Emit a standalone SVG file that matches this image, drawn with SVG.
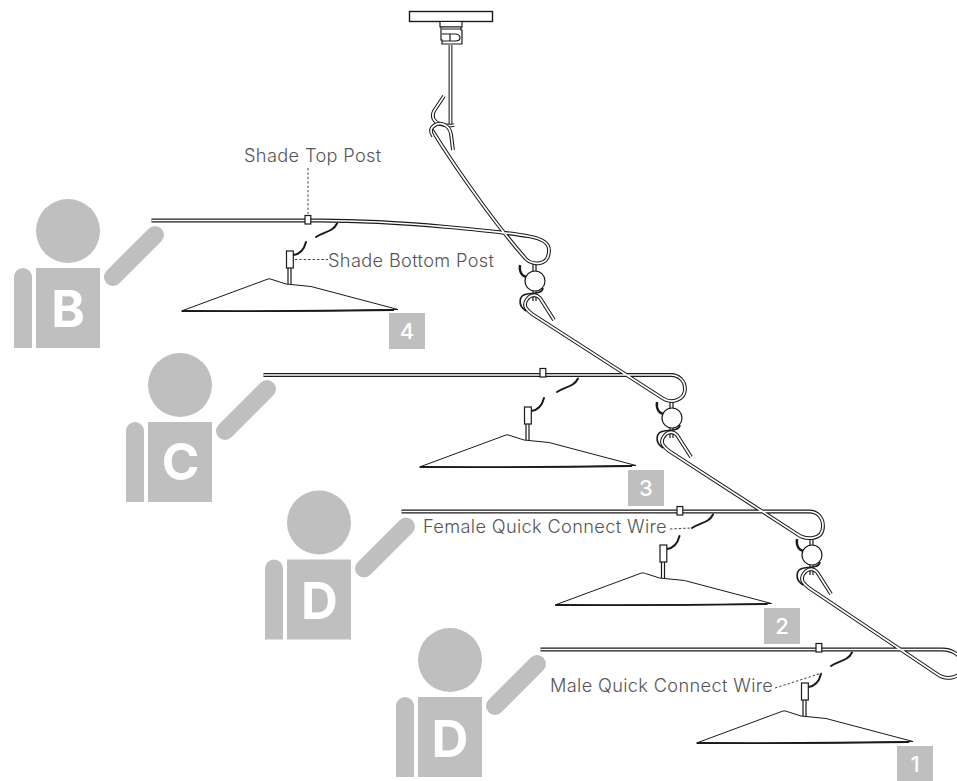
<svg xmlns="http://www.w3.org/2000/svg" xmlns:xlink="http://www.w3.org/1999/xlink" width="957" height="781" viewBox="0 0 957 781">
<style>
.lbl{font-family:Inter,"Liberation Sans",sans-serif;font-weight:300;font-size:18.2px;letter-spacing:.35px;fill:#555}
.let{font-family:Inter,"Liberation Sans",sans-serif;font-weight:700;font-size:51px;fill:#fff;text-anchor:middle}
.num{font-family:Inter,"Liberation Sans",sans-serif;font-weight:500;font-size:22px;fill:#fff;text-anchor:middle}
.sq{fill:#bfbfbf}
.o{fill:none;stroke:#1a1a1a;stroke-width:3.8;stroke-linejoin:round}
.i{fill:none;stroke:#fff;stroke-width:1.7;stroke-linejoin:round}
.th{fill:none;stroke:#1a1a1a;stroke-width:1.2;stroke-linejoin:round}
.w{fill:none;stroke:#1a1a1a;stroke-width:2;stroke-linecap:round}
.box{fill:#fff;stroke:#1a1a1a;stroke-width:1.2}
.dot{fill:none;stroke:#444;stroke-width:1;stroke-dasharray:2.4 2}
</style>
<defs>
<g id="person" fill="#bfbfbf">
<circle cx="68" cy="231" r="32"/>
<path d="M14 348V277a9 9 0 0 1 18 0V348Z"/>
<rect x="36" y="268" width="64" height="80"/>
<line x1="113" y1="277" x2="155" y2="235" stroke="#bfbfbf" stroke-width="18" stroke-linecap="round"/>
</g>
<rect id="tp" class="box" x="305" y="215.500" width="5.800" height="8.500"/>
<path id="wu" class="w" d="M337 223.500C333 232 323 232 316 237"/>
<g id="lamp">
<path class="w" d="M306 242C304 250 300 254 293.500 255" stroke-width="1.600"/>
<rect class="box" x="286.500" y="251" width="6.800" height="17"/>
<path class="th" d="M288 268V284M291 268V285"/>
<path fill="#fff" stroke="#1a1a1a" stroke-width="1" stroke-linejoin="round" d="M181.500 311L268 279Q270 278.500 272 279.500L286 284L311 286.500L398 309.500Q300 312 181.500 311Z"/>
<path fill="none" stroke="#1a1a1a" stroke-width="1.800" d="M182 311Q290 311.500 394 310"/>
</g>
<g id="hook">
<path fill="none" stroke="#1a1a1a" stroke-width="2.400" d="M-15 -16C-16 -9 -13 -4 -7 -4"/>
<path class="th" d="M-2 -9V-18M1 -9V-18M-2 9V20M1 9V20"/>
<circle cx="0" cy="0" r="10" fill="#fff" stroke="#1a1a1a" stroke-width="1.200"/>
<path fill="none" stroke="#1a1a1a" stroke-width="1.600" d="M8 7C7 13 -2 12 -8 13C-16 14 -18 24 -9 30"/>
</g>
</defs>

<g id="connectors">
<use href="#hook" xlink:href="#hook" x="535" y="281"/>
<use href="#hook" xlink:href="#hook" x="672" y="418"/>
<use href="#hook" xlink:href="#hook" x="812" y="555"/>
<path class="o" d="M432 130C460 175 500 230 526 259C532 265 549 267 549 250C549 243 543 239 530 236.500C505 232 400 220.500 320 220.500H151.500"/>
<path class="i" d="M432 130C460 175 500 230 526 259C532 265 549 267 549 250C549 243 543 239 530 236.500C505 232 400 220.500 320 220.500H151.500"/>
<path class="o" d="M554 320L540 298Q535 293 529 297Q523 303 526 308Q528 311 532 314L663 398.500C671 404 685 400 685 389C685 381 679 375 671 375H263.500"/>
<path class="i" d="M554 320L540 298Q535 293 529 297Q523 303 526 308Q528 311 532 314L663 398.500C671 404 685 400 685 389C685 381 679 375 671 375H263.500"/>
<path class="o" d="M691 457L677 435Q672 430 666 434Q660 440 663 445Q665 448 669 451L797 534C805 540 823 541 823 526C823 517 817 511.500 809 511.500H401.500"/>
<path class="i" d="M691 457L677 435Q672 430 666 434Q660 440 663 445Q665 448 669 451L797 534C805 540 823 541 823 526C823 517 817 511.500 809 511.500H401.500"/>
<path class="o" d="M831 594L817 572Q812 567 806 571Q800 577 803 582Q805 585 809 588L937 674C945 680 962 680 962 665C962 655 952 649.500 942 649.500H540.500"/>
<path class="i" d="M831 594L817 572Q812 567 806 571Q800 577 803 582Q805 585 809 588L937 674C945 680 962 680 962 665C962 655 952 649.500 942 649.500H540.500"/>
<path class="dot" d="M308 168V214M295 259.500H328M670 529L691 528M775 688L822 673"/>
</g>

<g id="ceiling-mount">
<rect x="409.500" y="11.500" width="83" height="10" fill="#fff" stroke="#1a1a1a" stroke-width="1.400"/>
<path class="box" d="M440 22V27H462V22"/>
<path class="box" d="M441 27H461V30H462V44H442V40H441Z"/>
<path class="th" d="M442 29H461M442 34H455Q460 34 460 38Q460 41 455 41H442M450 34V41"/>
<path class="o" d="M450.500 45V126"/>
<path class="i" d="M450.500 45V126"/>
</g>
<g id="top-hook">
<path class="o" d="M444 96L434 111C431 117 434 122 440 124C446 126 450 126 454 125"/>
<path class="i" d="M444 96L434 111C431 117 434 122 440 124C446 126 450 126 454 125"/>
<path class="o" d="M453 150L451 134C449 124 440 122 435 125C430 128 430 132 433 136"/>
<path class="i" d="M453 150L451 134C449 124 440 122 435 125C430 128 430 132 433 136"/>
</g>

<g id="lamp-4"><use href="#tp" xlink:href="#tp"/><use href="#wu" xlink:href="#wu"/><use href="#lamp" xlink:href="#lamp"/></g>
<g id="lamp-3"><use href="#tp" xlink:href="#tp" x="235" y="153"/><use href="#wu" xlink:href="#wu" x="241" y="155"/><use href="#lamp" xlink:href="#lamp" x="238" y="156"/></g>
<g id="lamp-2"><use href="#tp" xlink:href="#tp" x="372" y="291"/><use href="#wu" xlink:href="#wu" x="376" y="291"/><use href="#lamp" xlink:href="#lamp" x="373.500" y="294"/></g>
<g id="lamp-1"><use href="#tp" xlink:href="#tp" x="511" y="428"/><use href="#wu" xlink:href="#wu" x="515" y="429"/><use href="#lamp" xlink:href="#lamp" x="515" y="432"/></g>

<g id="person-b"><use href="#person" xlink:href="#person"/><text class="let" x="68" y="327">B</text></g>
<g id="person-c"><use href="#person" xlink:href="#person" x="112" y="154"/><text class="let" x="180.500" y="480">C</text></g>
<g id="person-d1"><use href="#person" xlink:href="#person" x="251" y="291.500"/><text class="let" x="319.500" y="619">D</text></g>
<g id="person-d2"><use href="#person" xlink:href="#person" x="382" y="429"/><text class="let" x="450" y="757">D</text></g>

<g id="step-4"><rect class="sq" x="389" y="313" width="36" height="36"/><text class="num" x="407" y="339">4</text></g>
<g id="step-3"><rect class="sq" x="628" y="470" width="36" height="36"/><text class="num" x="646" y="496">3</text></g>
<g id="step-2"><rect class="sq" x="764" y="608" width="36" height="36"/><text class="num" x="782" y="634">2</text></g>
<g id="step-1"><rect class="sq" x="897" y="746" width="36" height="35"/><text class="num" x="915" y="772">1</text></g>

<g id="labels">
<text class="lbl" x="244" y="162">Shade Top Post</text>
<text class="lbl" x="328" y="267">Shade Bottom Post</text>
<text class="lbl" x="423" y="533">Female Quick Connect Wire</text>
<text class="lbl" x="550" y="692">Male Quick Connect Wire</text>
</g>
</svg>
